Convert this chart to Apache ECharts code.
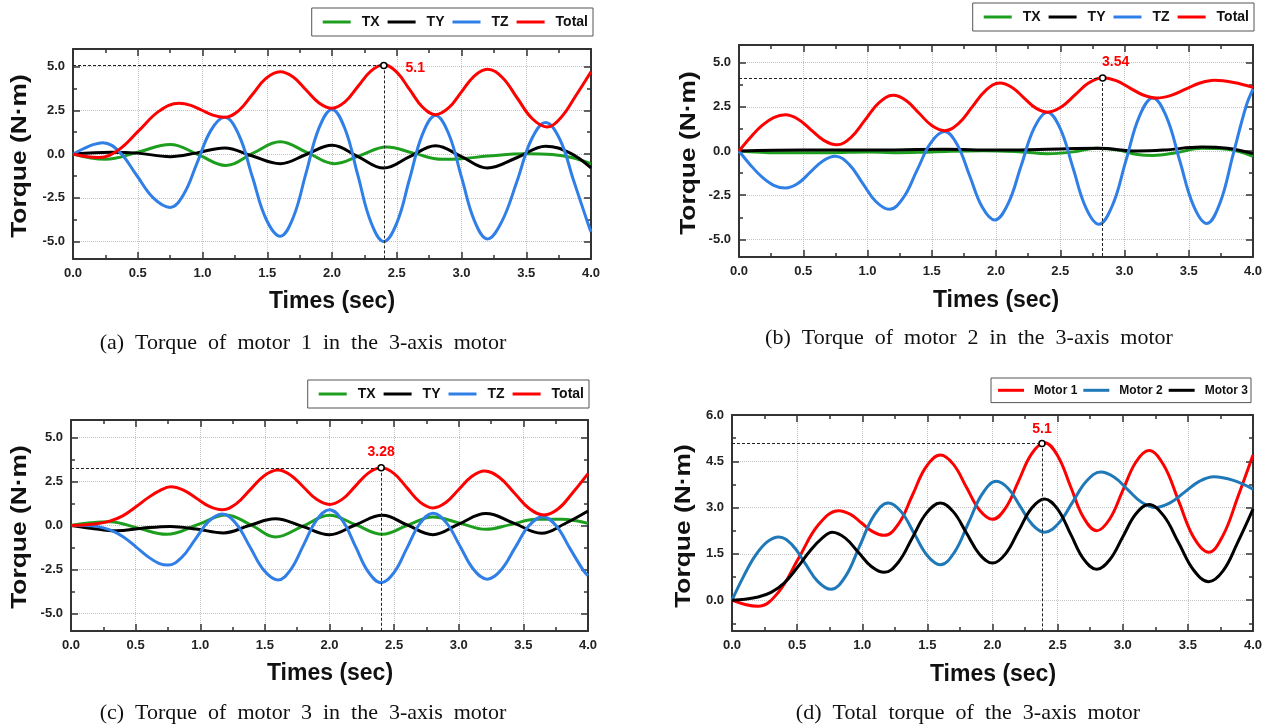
<!DOCTYPE html>
<html><head><meta charset="utf-8">
<script src="https://cdn.jsdelivr.net/npm/echarts@6/dist/echarts.min.js"></script>
<style>html,body{margin:0;padding:0;background:#fff}#c{width:1269px;height:728px}</style>
</head><body><div id="c"></div>
<script>
// ---------- tick values ----------
const xMajor = [0, 0.5, 1, 1.5, 2, 2.5, 3, 3.5, 4];
const xMinor = [0.25, 0.75, 1.25, 1.75, 2.25, 2.75, 3.25, 3.75];
const yMajorM = [-5, -2.5, 0, 2.5, 5];
const yMinorM = [-3.75, -1.25, 1.25, 3.75];
const yMajorT = [0, 1.5, 3, 4.5, 6];
const yMinorT = [-0.75, 0.75, 2.25, 3.75, 5.25];

// ---------- (a) motor 1 ----------
const aTX = [[0,0],[0.25,-0.3],[0.5,0.1],[0.75,0.55],[0.97,-0.05],[1.18,-0.65],[1.39,0.05],[1.6,0.7],[1.81,0.08],[2.02,-0.55],[2.22,-0.08],[2.42,0.4],[2.63,0.05],[2.85,-0.3],[3.0,-0.27],[3.2,-0.12],[3.5,0.02],[3.7,-0.03],[3.85,-0.2],[4.0,-0.55]];
const aTY = [[0,0],[0.3,0.1],[0.5,0.05],[0.75,-0.15],[0.95,0.05],[1.17,0.35],[1.38,-0.1],[1.6,-0.55],[1.8,-0.03],[2.0,0.5],[2.2,-0.15],[2.4,-0.8],[2.6,-0.15],[2.8,0.47],[3.0,-0.15],[3.2,-0.8],[3.43,-0.2],[3.65,0.45],[3.84,0.05],[4.0,-0.8]];
const aTZ = [[0,0],[0.08,0.3],[0.15,0.52],[0.23,0.65],[0.36,0.11],[0.49,-1.2],[0.62,-2.51],[0.75,-3.05],[0.855,-2.3],[0.96,-0.475],[1.065,1.35],[1.17,2.1],[1.28,1.1],[1.385,-1.3],[1.49,-3.7],[1.6,-4.7],[1.7,-3.64],[1.8,-1.075],[1.9,1.49],[2.0,2.55],[2.1,1.44],[2.2,-1.225],[2.3,-3.89],[2.4,-5.0],[2.5,-3.95],[2.6,-1.4],[2.7,1.15],[2.8,2.2],[2.9,1.17],[3.0,-1.325],[3.1,-3.82],[3.2,-4.85],[3.31,-3.88],[3.43,-1.525],[3.54,0.83],[3.65,1.8],[3.76,0.83],[3.865,-1.5],[3.97,-3.83],[4.0,-4.45]];
const aTotal = [[0,0],[0.1,-0.14],[0.2,-0.2],[0.355,0.25],[0.51,1.35],[0.665,2.45],[0.82,2.9],[0.91,2.78],[0.995,2.5],[1.08,2.22],[1.17,2.1],[1.28,2.48],[1.385,3.4],[1.49,4.32],[1.6,4.7],[1.7,4.4],[1.8,3.66],[1.9,2.92],[2.0,2.62],[2.1,2.98],[2.2,3.86],[2.3,4.74],[2.4,5.1],[2.5,4.68],[2.6,3.675],[2.7,2.67],[2.8,2.25],[2.9,2.63],[3.0,3.55],[3.1,4.47],[3.2,4.85],[3.315,4.37],[3.43,3.2],[3.545,2.03],[3.66,1.55],[3.77,2.1],[3.88,3.3],[4.0,4.7]];
const aPeak = [2.4, 5.06];
const aPeakLabel = '5.1';

// ---------- (b) motor 2 ----------
const bTX = [[0,0],[0.3,-0.1],[0.7,-0.1],[1.0,-0.05],[1.2,-0.1],[1.5,-0.05],[1.9,0.02],[2.2,-0.05],[2.4,-0.15],[2.6,-0.05],[2.78,0.15],[2.95,0.05],[3.1,-0.2],[3.22,-0.25],[3.4,-0.1],[3.6,0.15],[3.8,0.1],[4.0,-0.3]];
const bTY = [[0,0],[0.5,0.05],[1.0,0.05],[1.6,0.1],[2.0,0.05],[2.4,0.1],[2.8,0.15],[3.1,0.0],[3.3,0.05],[3.6,0.22],[3.8,0.15],[4.0,-0.15]];
const bTZ = [[0,0],[0.09,-0.8],[0.18,-1.48],[0.27,-1.94],[0.36,-2.1],[0.4575,-1.84],[0.555,-1.2],[0.6525,-0.56],[0.75,-0.3],[0.855,-0.74],[0.96,-1.8],[1.065,-2.86],[1.17,-3.3],[1.2775,-2.66],[1.385,-1.1],[1.4925,0.46],[1.6,1.1],[1.6975,0.37],[1.795,-1.4],[1.8925,-3.17],[1.99,-3.9],[2.0925,-3.01],[2.195,-0.85],[2.2975,1.31],[2.4,2.2],[2.5,1.27],[2.6,-0.975],[2.7,-3.22],[2.8,-4.15],[2.905,-3.1],[3.01,-0.575],[3.115,1.95],[3.22,3.0],[3.325,1.96],[3.43,-0.55],[3.535,-3.06],[3.64,-4.1],[3.7425,-2.96],[3.845,-0.2],[3.9475,2.56],[4.0,3.5]];
const bTotal = [[0,0],[0.09,0.78],[0.18,1.45],[0.27,1.89],[0.36,2.05],[0.46,1.8],[0.56,1.2],[0.66,0.6],[0.76,0.35],[0.87,0.76],[0.98,1.75],[1.09,2.74],[1.2,3.15],[1.3,2.86],[1.4,2.15],[1.5,1.44],[1.6,1.15],[1.7075,1.55],[1.815,2.5],[1.9225,3.45],[2.03,3.85],[2.1225,3.61],[2.215,3.025],[2.3075,2.44],[2.4,2.2],[2.5075,2.49],[2.615,3.175],[2.7225,3.86],[2.83,4.15],[2.935,3.98],[3.04,3.575],[3.145,3.17],[3.25,3.0],[3.3625,3.15],[3.475,3.5],[3.5875,3.85],[3.7,4.0],[3.85,3.88],[4.0,3.6]];
const bPeak = [2.83, 4.13];
const bPeakLabel = '3.54';

// ---------- (c) motor 3 ----------
const cTX = [[0,0],[0.15,0.15],[0.3,0.22],[0.52,-0.15],[0.74,-0.5],[0.98,0.05],[1.2,0.6],[1.4,0.0],[1.58,-0.65],[1.79,-0.05],[2.0,0.58],[2.2,0.05],[2.41,-0.5],[2.6,0.0],[2.8,0.48],[3.0,0.15],[3.21,-0.22],[3.4,0.05],[3.6,0.35],[3.8,0.35],[3.92,0.25],[4.0,0.12]];
const cTY = [[0,0],[0.15,-0.15],[0.35,-0.3],[0.55,-0.15],[0.77,-0.05],[0.97,-0.2],[1.18,-0.42],[1.38,0.0],[1.58,0.38],[1.79,-0.05],[2.0,-0.52],[2.2,0.03],[2.41,0.58],[2.6,0.03],[2.8,-0.52],[3.0,0.08],[3.21,0.68],[3.43,0.12],[3.64,-0.44],[3.82,0.1],[4.0,0.82]];
const cTZ = [[0,0],[0.1,0.0],[0.2,-0.05],[0.3,-0.25],[0.4,-0.62],[0.5,-1.2],[0.6,-1.8],[0.68,-2.15],[0.75,-2.25],[0.855,-1.83],[0.96,-0.8],[1.065,0.23],[1.17,0.65],[1.2775,0.1],[1.385,-1.225],[1.4925,-2.55],[1.6,-3.1],[1.7,-2.51],[1.8,-1.1],[1.9,0.31],[2.0,0.9],[2.1,0.29],[2.2,-1.175],[2.3,-2.64],[2.4,-3.25],[2.5,-2.67],[2.6,-1.275],[2.7,0.12],[2.8,0.7],[2.905,0.15],[3.01,-1.175],[3.115,-2.5],[3.22,-3.05],[3.3275,-2.53],[3.435,-1.275],[3.5425,-0.02],[3.65,0.5],[3.755,-0.03],[3.86,-1.3],[3.965,-2.57],[4.0,-2.85]];
const cTotal = [[0,0],[0.1,0.03],[0.2,0.1],[0.3,0.25],[0.4,0.55],[0.5,1.05],[0.6,1.6],[0.69,2.0],[0.77,2.2],[0.87,2.01],[0.97,1.55],[1.07,1.09],[1.17,0.9],[1.2775,1.23],[1.385,2.025],[1.4925,2.82],[1.6,3.15],[1.7,2.86],[1.8,2.175],[1.9,1.49],[2.0,1.2],[2.1,1.5],[2.2,2.24],[2.3,2.98],[2.4,3.28],[2.5,2.95],[2.6,2.14],[2.7,1.33],[2.8,1.0],[2.9,1.31],[3.0,2.05],[3.1,2.79],[3.2,3.1],[3.315,2.73],[3.43,1.85],[3.545,0.97],[3.66,0.6],[3.77,0.95],[3.88,1.85],[4.0,2.95]];
const cPeak = [2.4, 3.28];
const cPeakLabel = '3.28';

// ---------- (d) totals ----------
const dPeak = [2.38, 5.08];
const dPeakLabel = '5.1';

// ---------- styling ----------
const SANS = '"Liberation Sans", Arial, sans-serif';
const SERIF = '"Liberation Serif", "Times New Roman", serif';
const AX = '#333';
const C = {TX:'#1e9e1e', TY:'#000000', TZ:'#2f7fe6', Total:'#ff0000', M1:'#ff0000', M2:'#1f78b8', M3:'#000000'};

const panels = [
  {grid:{left:73, top:49, width:518, height:210}, yMin:-6, yMax:6, yMaj:yMajorM, yMnr:yMinorM},
  {grid:{left:739, top:45, width:514, height:212}, yMin:-6, yMax:6, yMaj:yMajorM, yMnr:yMinorM},
  {grid:{left:71, top:420, width:517, height:211}, yMin:-6, yMax:6, yMaj:yMajorM, yMnr:yMinorM},
  {grid:{left:732, top:415, width:521, height:216}, yMin:-1, yMax:6, yMaj:yMajorT, yMnr:yMinorT}
];

const lblStyle = {color:'#222', fontSize:13, fontWeight:'bold', fontFamily:SANS};
const tickLine = {color:AX, width:1.5};
const axLine = {show:true, onZero:false, lineStyle:{color:AX, width:2}};
const noLine = {show:false, onZero:false};
const split = {show:true, lineStyle:{color:'#c4c4c4', type:'dotted', width:1}};

const xAxis = [], yAxis = [];
panels.forEach((p, gi) => {
  const xb = {type:'value', gridIndex:gi, min:0, max:4};
  xAxis.push(Object.assign({}, xb, {position:'bottom', axisLine:axLine,
    axisTick:{show:true, inside:true, length:7, customValues:xMajor, lineStyle:tickLine},
    axisLabel:Object.assign({show:true, customValues:xMajor, margin:8, formatter:v=>Number(v).toFixed(1)}, lblStyle),
    splitLine:split}));
  xAxis.push(Object.assign({}, xb, {position:'bottom', axisLine:noLine,
    axisTick:{show:true, inside:true, length:4, customValues:xMinor, lineStyle:tickLine},
    axisLabel:{show:false}, splitLine:{show:false}}));
  xAxis.push(Object.assign({}, xb, {position:'top', axisLine:axLine,
    axisTick:{show:true, inside:true, length:7, customValues:xMajor, lineStyle:tickLine},
    axisLabel:{show:false}, splitLine:{show:false}}));
  xAxis.push(Object.assign({}, xb, {position:'top', axisLine:noLine,
    axisTick:{show:true, inside:true, length:4, customValues:xMinor, lineStyle:tickLine},
    axisLabel:{show:false}, splitLine:{show:false}}));

  const yb = {type:'value', gridIndex:gi, min:p.yMin, max:p.yMax};
  yAxis.push(Object.assign({}, yb, {position:'left', axisLine:axLine,
    axisTick:{show:true, inside:true, length:7, customValues:p.yMaj, lineStyle:tickLine},
    axisLabel:Object.assign({show:true, customValues:p.yMaj, margin:8, formatter:v=>Number(v).toFixed(1)}, lblStyle),
    splitLine:split}));
  yAxis.push(Object.assign({}, yb, {position:'left', axisLine:noLine,
    axisTick:{show:true, inside:true, length:4, customValues:p.yMnr, lineStyle:tickLine},
    axisLabel:{show:false}, splitLine:{show:false}}));
  yAxis.push(Object.assign({}, yb, {position:'right', axisLine:axLine,
    axisTick:{show:true, inside:true, length:7, customValues:p.yMaj, lineStyle:tickLine},
    axisLabel:{show:false}, splitLine:{show:false}}));
  yAxis.push(Object.assign({}, yb, {position:'right', axisLine:noLine,
    axisTick:{show:true, inside:true, length:4, customValues:p.yMnr, lineStyle:tickLine},
    axisLabel:{show:false}, splitLine:{show:false}}));
});

function line(gi, name, data, color, extra) {
  return Object.assign({type:'line', name, xAxisIndex:gi*4, yAxisIndex:gi*4, data,
    smooth:0.4, showSymbol:false, symbol:'none', silent:true,
    lineStyle:{width:3, color}, itemStyle:{color}, z:3}, extra || {});
}
function peak(gi, pt, label, labelOpt) {
  const yMin = panels[gi].yMin;
  return {
    markLine:{silent:true, symbol:['none','none'], animation:false, label:{show:false},
      lineStyle:{color:'#222', width:1, type:[3,2]},
      data:[[{coord:[0, pt[1]]},{coord:[pt[0], pt[1]]}], [{coord:[pt[0], pt[1]]},{coord:[pt[0], yMin]}]]},
    markPoint:{silent:true, animation:false, symbol:'circle', symbolSize:6, z:10,
      itemStyle:{color:'#ffffff', borderColor:'#000', borderWidth:1.5},
      label:Object.assign({show:true, formatter:label, color:'#ff0000', fontWeight:'bold', fontSize:14, fontFamily:SANS}, labelOpt),
      data:[{coord:pt}]}
  };
}

const series = [
  line(0,'TX',aTX,C.TX), line(0,'TY',aTY,C.TY), line(0,'TZ',aTZ,C.TZ),
  line(0,'Total',aTotal,C.Total, peak(0, aPeak, aPeakLabel, {position:'right', distance:18, offset:[0,3]})),
  line(1,'TX',bTX,C.TX), line(1,'TY',bTY,C.TY), line(1,'TZ',bTZ,C.TZ),
  line(1,'Total',bTotal,C.Total, peak(1, bPeak, bPeakLabel, {position:'top', distance:5, offset:[13,0]})),
  line(2,'TX',cTX,C.TX), line(2,'TY',cTY,C.TY), line(2,'TZ',cTZ,C.TZ),
  line(2,'Total',cTotal,C.Total, peak(2, cPeak, cPeakLabel, {position:'top', distance:5})),
  line(3,'Motor 1',aTotal,C.M1, peak(3, dPeak, dPeakLabel, {position:'top', distance:3})),
  line(3,'Motor 2',bTotal,C.M2), line(3,'Motor 3',cTotal,C.M3)
];

function legend(right, top, names, big) {
  return {show:true, right, top, orient:'horizontal', icon:'rect', width:400,
    itemWidth: big ? 28 : 26, itemHeight:3, itemGap: big ? 8 : 6,
    padding: big ? [5,5,5,11] : [4,3,4,7],
    borderColor:'#555', borderWidth:1, backgroundColor:'#fff', selectedMode:false,
    textStyle:{fontFamily:SANS, fontWeight:'bold', fontSize: big ? 14 : 12, color:'#111',
      lineHeight: big ? 18 : 16.6, padding:[0,0,0, big ? 6 : 5]},
    data:names};
}

const titleFont = 'bold 23px ' + SANS;
function xTitle(x, y) { return {type:'text', x, y, silent:true, style:{text:'Times (sec)', align:'center', verticalAlign:'middle', font:titleFont, fill:'#111'}}; }
function yTitle(x, y) { return {type:'text', x, y, rotation:Math.PI/2, scaleX:1.2, silent:true, style:{text:'Torque (N\u00b7m)', align:'center', verticalAlign:'middle', font:'bold 22px ' + SANS, fill:'#111'}}; }
function caption(x, y, t) { return {type:'text', x, y, silent:true, style:{text:t, align:'center', verticalAlign:'middle', font:'22px ' + SERIF, fill:'#111'}}; }

const option = {
  animation:false,
  backgroundColor:'#fff',
  grid: panels.map(p => Object.assign({show:false, containLabel:false, outerBoundsMode:'none'}, p.grid)),
  xAxis, yAxis, series,
  legend:[
    legend(676, 8, ['TX','TY','TZ','Total'], true),
    legend(15, 3, ['TX','TY','TZ','Total'], true),
    legend(680, 380, ['TX','TY','TZ','Total'], true),
    legend(18, 378, ['Motor 1','Motor 2','Motor 3'], false)
  ],
  graphic:[
    xTitle(332, 302), xTitle(996, 301), xTitle(330, 674), xTitle(993, 675),
    yTitle(20, 156), yTitle(689, 153), yTitle(20, 527), yTitle(684, 526),
    caption(303, 343, '(a)  Torque  of  motor  1  in  the  3-axis  motor'),
    caption(969, 338, '(b)  Torque  of  motor  2  in  the  3-axis  motor'),
    caption(303, 713, '(c)  Torque  of  motor  3  in  the  3-axis  motor'),
    caption(968, 713, '(d)  Total  torque  of  the  3-axis  motor')
  ]
};
const chart = echarts.init(document.getElementById('c'), null, {renderer:'canvas', width:1269, height:728});
chart.setOption(option);
</script></body></html>
